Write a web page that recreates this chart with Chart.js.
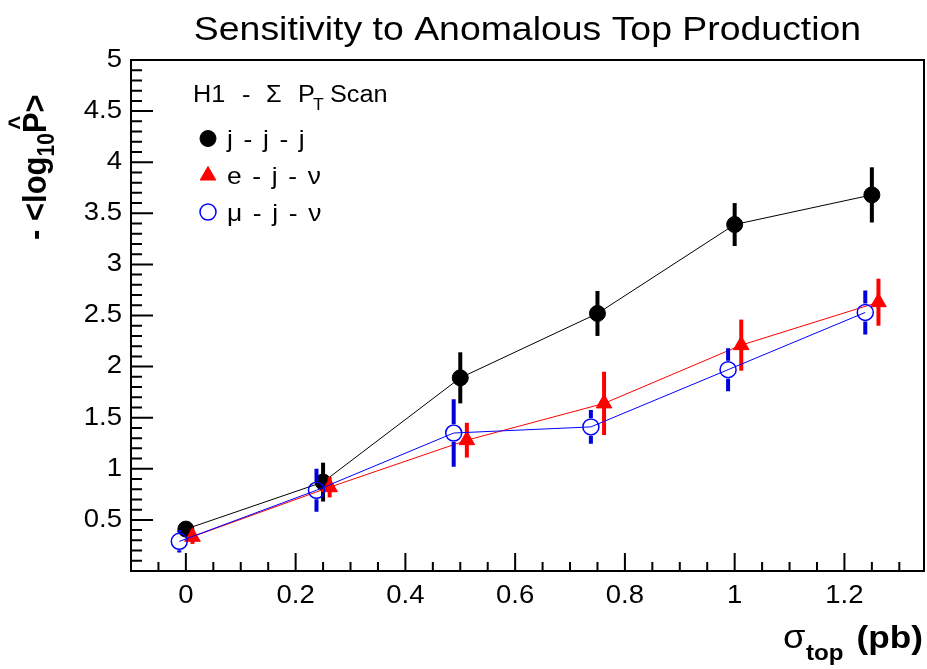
<!DOCTYPE html>
<html>
<head>
<meta charset="utf-8">
<script src="https://cdn.jsdelivr.net/npm/chart.js@4.4.1/dist/chart.umd.min.js"></script>
<style>
  html, body { margin: 0; padding: 0; background: #fff; }
  #wrap { width: 927px; height: 669px; position: relative; }
</style>
</head>
<body>
<div id="wrap"><canvas id="c"></canvas></div>
<script>
// Injected top cross-section (pb); the three channels sit slightly apart in x
const sigmaJJJ = [0, 0.25, 0.5, 0.75, 1.0, 1.25];
const sigmaEJN = [0.012, 0.262, 0.512, 0.762, 1.012, 1.262];
const sigmaMJN = [-0.012, 0.238, 0.488, 0.738, 0.988, 1.238];

// Mean -log10(P-hat) per channel and its uncertainty
const sensJJJ = [0.41, 0.87, 1.89, 2.52, 3.39, 3.68];
const errJJJ  = [0.05, 0.19, 0.25, 0.22, 0.21, 0.27];
const sensEJN = [0.335, 0.82, 1.28, 1.64, 2.21, 2.63];
const errEJN  = [0.07, 0.10, 0.17, 0.31, 0.25, 0.23];
const sensMJN = [0.29, 0.79, 1.35, 1.41, 1.97, 2.53];
const errMJN  = [0.11, 0.21, 0.33, 0.165, 0.21, 0.215];

const channelNames = ['j - j - j', 'e - j - ν', 'μ - j - ν'];
const chartTitle = 'Sensitivity to Anomalous Top Production';

const xTickValues = [0, 0.2, 0.4, 0.6, 0.8, 1, 1.2];
const xTickLabels = ['0', '0.2', '0.4', '0.6', '0.8', '1', '1.2'];
const yTickValues = [0.5, 1, 1.5, 2, 2.5, 3, 3.5, 4, 4.5, 5];
const yTickLabels = ['0.5', '1', '1.5', '2', '2.5', '3', '3.5', '4', '4.5', '5'];

const FONT = '"Liberation Sans", Arial, Helvetica, sans-serif';
const SX = 1.1; // glyphs are drawn a little wide, Helvetica-style

function toPoints(xs, ys, es) {
  return xs.map((x, i) => ({ x: x, y: ys[i], err: es[i] }));
}

// Text drawn with a slight horizontal stretch
function putText(ctx, text, x, y, size, weight, align, baseline, spacing) {
  ctx.save();
  ctx.translate(x, y);
  ctx.scale(SX, 1);
  ctx.font = weight + ' ' + size + 'px ' + FONT;
  ctx.textAlign = align;
  ctx.textBaseline = baseline;
  ctx.fillStyle = '#000';
  if (spacing) ctx.letterSpacing = spacing + 'px';
  ctx.fillText(text, 0, 0);
  ctx.restore();
}

// Vertical error bars, drawn just before each dataset's own line and markers
const errorBars = {
  id: 'errorBars',
  beforeDatasetDraw(chart, args) {
    const ds = chart.data.datasets[args.index];
    const ys = chart.scales.y;
    const ctx = chart.ctx;
    const a = chart.chartArea;
    ctx.save();
    ctx.beginPath();
    ctx.rect(a.left, a.top, a.right - a.left, a.bottom - a.top);
    ctx.clip();
    ctx.strokeStyle = ds.errorColor;
    ctx.lineWidth = ds.errorWidth;
    args.meta.data.forEach((pt, i) => {
      const d = ds.data[i];
      const top = ys.getPixelForValue(d.y + d.err);
      const bot = ys.getPixelForValue(d.y - d.err);
      const gap = ds.errorGap ? ds.pointRadius + 1 : 0;
      ctx.beginPath();
      if (gap) {
        if (top < pt.y - gap) { ctx.moveTo(pt.x, top); ctx.lineTo(pt.x, pt.y - gap); }
        if (bot > pt.y + gap) { ctx.moveTo(pt.x, pt.y + gap); ctx.lineTo(pt.x, bot); }
      } else {
        ctx.moveTo(pt.x, top); ctx.lineTo(pt.x, bot);
      }
      ctx.stroke();
    });
    ctx.restore();
  }
};

// Frame, inward ticks, tick labels, axis titles, title and the in-plot legend
const decorations = {
  id: 'decorations',
  afterDraw(chart) {
    const ctx = chart.ctx;
    const a = chart.chartArea;
    const xs = chart.scales.x, ys = chart.scales.y;

    ctx.save();
    ctx.strokeStyle = '#000';
    ctx.lineWidth = 2;
    ctx.strokeRect(a.left, a.top, a.right - a.left, a.bottom - a.top);

    // x ticks: major at labels, minor every 0.05
    ctx.beginPath();
    for (let k = -1; k * 0.05 < xs.max; k++) {
      const v = k * 0.05;
      const px = xs.getPixelForValue(v);
      if (px <= a.left + 1 || px >= a.right - 1) continue;
      const major = xTickValues.some(t => Math.abs(t - v) < 1e-6);
      ctx.moveTo(px, a.bottom);
      ctx.lineTo(px, a.bottom - (major ? 18 : 9));
    }
    // y ticks: major every 0.5, minor every 0.1
    for (let k = 1; k * 0.1 < ys.max - 1e-6; k++) {
      const v = k * 0.1;
      const py = ys.getPixelForValue(v);
      const major = yTickValues.some(t => Math.abs(t - v) < 1e-6);
      ctx.moveTo(a.left, py);
      ctx.lineTo(a.left + (major ? 22 : 11), py);
    }
    ctx.stroke();
    ctx.restore();

    // tick labels
    xTickValues.forEach((v, i) => {
      putText(ctx, xTickLabels[i], xs.getPixelForValue(v), a.bottom + 25, 25, 'normal', 'center', 'middle');
    });
    yTickValues.forEach((v, i) => {
      putText(ctx, yTickLabels[i], a.left - 9, ys.getPixelForValue(v), 25, 'normal', 'right', 'middle');
    });

    // title
    putText(ctx, chartTitle, (a.left + a.right) / 2, 31, 34, 'normal', 'center', 'middle');

    // x-axis title: sigma_top (pb)
    putText(ctx, 'σ', a.right - 141, 648, 33, 'normal', 'left', 'alphabetic');
    putText(ctx, 'top', a.right - 118, 660, 22, 'bold', 'left', 'alphabetic');
    putText(ctx, '(pb)', a.right - 1, 648, 32, 'bold', 'right', 'alphabetic');

    // y-axis title: - <log10 P-hat>, reading upward
    ctx.save();
    ctx.translate(46, 0);
    ctx.rotate(-Math.PI / 2);
    ctx.scale(1, SX);
    ctx.fillStyle = '#000';
    ctx.textAlign = 'left';
    ctx.textBaseline = 'alphabetic';
    const big = 'bold 31px ' + FONT, small = 'bold 21px ' + FONT;
    let lx = -240;
    ctx.font = big;
    ctx.fillText('- <log', lx, 0);
    lx += ctx.measureText('- <log').width;
    ctx.font = small;
    ctx.fillText('10', lx, 7);
    lx += ctx.measureText('10').width;
    ctx.font = big;
    const pw = ctx.measureText('P').width;
    ctx.fillText('P', lx, 0);
    ctx.font = 'bold 24px ' + FONT;
    ctx.textAlign = 'center';
    ctx.fillText('^', lx + pw / 2, -17);
    ctx.textAlign = 'left';
    ctx.font = big;
    ctx.fillText('>', lx + pw, 0);
    ctx.restore();

    // legend header: H1 - Sigma P_T Scan (TLatex-style wide spacing)
    putText(ctx, 'H1', 193, 102, 23, 'normal', 'left', 'alphabetic');
    putText(ctx, '-', 242, 102, 23, 'normal', 'left', 'alphabetic');
    putText(ctx, 'Σ', 266, 102, 23, 'normal', 'left', 'alphabetic');
    putText(ctx, 'P', 298, 102, 23, 'normal', 'left', 'alphabetic');
    putText(ctx, 'T', 313, 110, 16, 'normal', 'left', 'alphabetic');
    putText(ctx, 'Scan', 330, 102, 23, 'normal', 'left', 'alphabetic');

    // legend entries
    const rowY = [138.5, 175.5, 212];
    chart.data.datasets.forEach((ds, i) => {
      ctx.save();
      ctx.fillStyle = ds.pointBackgroundColor;
      ctx.strokeStyle = ds.pointBorderColor;
      ctx.lineWidth = ds.pointBorderWidth;
      Chart.helpers.drawPoint(ctx, {
        pointStyle: ds.pointStyle, radius: ds.pointRadius, rotation: 0,
        borderWidth: ds.pointBorderWidth
      }, 208, rowY[i]);
      ctx.restore();
      putText(ctx, channelNames[i], 227, rowY[i] + 8.5, 24, 'normal', 'left', 'alphabetic', 1.5);
    });
  }
};

const commonAxis = {
  type: 'linear',
  grid: { display: false, drawTicks: false, tickLength: 0 },
  border: { display: false },
  ticks: { display: false }
};

new Chart(document.getElementById('c'), {
  type: 'line',
  data: {
    datasets: [
      {
        label: channelNames[0],
        data: toPoints(sigmaJJJ, sensJJJ, errJJJ),
        borderColor: '#000000', borderWidth: 1,
        pointStyle: 'circle', pointRadius: 8,
        pointBackgroundColor: '#000000', pointBorderColor: '#000000', pointBorderWidth: 1,
        errorColor: '#000000', errorWidth: 4,
        order: 3
      },
      {
        label: channelNames[1],
        data: toPoints(sigmaEJN, sensEJN, errEJN),
        borderColor: '#ff0000', borderWidth: 1,
        pointStyle: 'triangle', pointRadius: 9,
        pointBackgroundColor: '#ff0000', pointBorderColor: '#ff0000', pointBorderWidth: 1,
        errorColor: '#ff0000', errorWidth: 4,
        order: 2
      },
      {
        label: channelNames[2],
        data: toPoints(sigmaMJN, sensMJN, errMJN),
        borderColor: '#0000ff', borderWidth: 1,
        pointStyle: 'circle', pointRadius: 8,
        pointBackgroundColor: 'rgba(0,0,0,0)', pointBorderColor: '#0000ff', pointBorderWidth: 1.5,
        errorColor: '#0000dd', errorWidth: 4, errorGap: true,
        order: 1
      }
    ]
  },
  options: {
    responsive: true,
    maintainAspectRatio: false,
    animation: false,
    events: [],
    layout: { autoPadding: false, padding: { top: 60, right: 3, bottom: 0, left: 0 } },
    plugins: {
      legend: { display: false },
      title: { display: false },
      tooltip: { enabled: false }
    },
    scales: {
      x: Object.assign({}, commonAxis, {
        min: -0.1, max: 1.345,
        afterFit(s) { s.height = 98; }
      }),
      y: Object.assign({}, commonAxis, {
        min: 0, max: 5,
        afterFit(s) { s.width = 131; }
      })
    }
  },
  plugins: [errorBars, decorations]
});
</script>
</body>
</html>
